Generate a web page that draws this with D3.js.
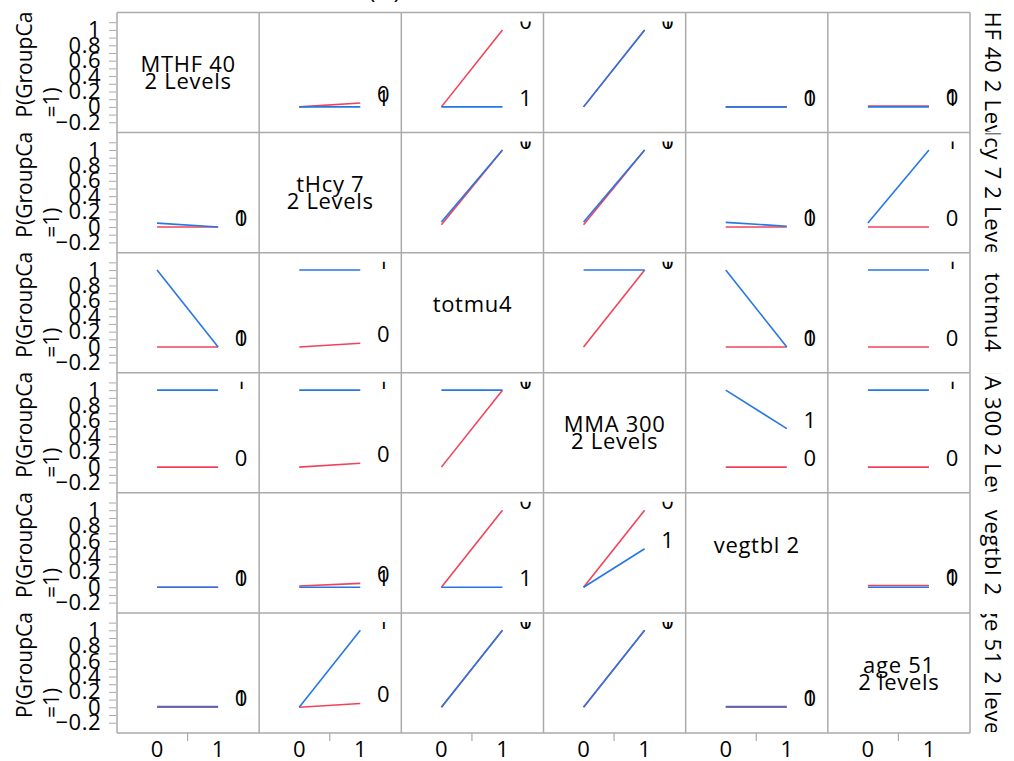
<!DOCTYPE html>
<html>
<head>
<meta charset="utf-8">
<script src="https://cdn.jsdelivr.net/npm/d3@7"></script>
<style>
  html, body { margin: 0; padding: 0; background: #fff; }
  svg { display: block; font-family: "Open Sans", "Noto Sans", sans-serif; }
</style>
</head>
<body>
<svg id="chart" width="1014" height="761"></svg>
<script>
// Factors of the interaction profiler (rows and columns share the same order)
const factors = ["MTHF 40", "tHcy 7", "totmu4", "MMA 300", "vegtbl 2", "age 51"];
// Text shown in the diagonal cells
const diagonalLabels = [
  ["MTHF 40", "2 Levels"],
  ["tHcy 7", "2 Levels"],
  ["totmu4"],
  ["MMA 300", "2 Levels"],
  ["vegtbl 2"],
  ["age 51", "2 levels"]
];
// Row titles on the right edge
const rowTitles = ["MTHF 40 2 Levels", "tHcy 7 2 Levels", "totmu4", "MMA 300 2 Levels", "vegtbl 2", "age 51 2 levels"];
const responseTitle = ["P(GroupCa", "=1)"];
const chartTitle = "(1)";
const levels = ["0", "1"];
const xTickLabels = ["0", "1"];
const yTickValues = [-0.2, 0, 0.2, 0.4, 0.6, 0.8, 1];

// Predicted P(GroupCa=1) at x = 0 and x = 1 for the row factor's level 0 (red)
const level0Profiles = [
  [null, [0, 0.05], [0, 1], [0, 1], [0, 0], [0.012, 0.012]],
  [[0, 0], null, [0.03, 1], [0.03, 1], [0, 0], [0, 0]],
  [[0, 0], [0, 0.05], null, [0, 1], [0, 0], [0, 0]],
  [[0, 0], [0, 0.05], [0, 1], null, [0, 0], [0, 0]],
  [[0, 0], [0.015, 0.05], [0, 1], [0, 1], null, [0.022, 0.022]],
  [[0, 0], [0, 0.05], [0, 1], [0, 1], [0, 0], null]
];
// ... and for the row factor's level 1 (blue)
const level1Profiles = [
  [null, [0, 0], [0, 0], [0, 1], [0, 0], [0, 0]],
  [[0.05, 0], null, [0.065, 1], [0.065, 1], [0.06, 0.01], [0.05, 1]],
  [[1, 0], [1, 1], null, [1, 1], [1, 0], [1, 1]],
  [[1, 1], [1, 1], [1, 1], null, [1, 0.5], [1, 1]],
  [[0, 0], [0, 0], [0, 0], [0, 0.5], null, [0, 0]],
  [[0.01, 0.01], [0, 1], [0, 1], [0, 1], [0.01, 0.01], null]
];

const levelColors = ["#f0435a", "#2577e3"];
const frameColor = "#aaaaaa";
const wideText = 0.7; // extra letter spacing for the wide label face

const svg = d3.select("#chart");
const gridLeft = 117, gridRight = 970, gridTop = 12.5, gridBottom = 733;

const colScale = d3.scaleBand().domain(d3.range(factors.length)).range([gridLeft, gridRight]);
const rowScale = d3.scaleBand().domain(d3.range(factors.length)).range([gridTop, gridBottom]);
const cellW = colScale.bandwidth(), cellH = rowScale.bandwidth();

// Within-cell scales
const x = d3.scaleLinear().domain([-0.656, 1.672]).range([0, cellW]);
const y = d3.scaleLinear().domain([-0.334, 1.226]).range([cellH, 0]);

const defs = svg.append("defs");

// Title (sits above the top edge)
svg.append("text")
  .attr("x", 386).attr("y", -1)
  .attr("text-anchor", "middle")
  .attr("font-size", 22)
  .attr("letter-spacing", 3)
  .text(chartTitle);

const line = d3.line().x(d => x(d[0])).y(d => y(d[1]));

factors.forEach((rf, r) => {
  const rowTop = rowScale(r);

  // Left response title for this row
  const lt = svg.append("g").attr("transform", `translate(0,${rowTop + cellH - 15}) rotate(-90)`);
  lt.append("text").attr("x", 0).attr("y", 32).attr("font-size", 21).text(responseTitle[0]);
  lt.append("text").attr("x", 0).attr("y", 59).attr("font-size", 21).text(responseTitle[1]);

  // Y axis ticks & labels
  const yAxis = d3.axisLeft(y)
    .tickValues(d3.range(-0.2, 1.1001, 0.1).map(v => Math.round(v * 10) / 10))
    .tickSize(7).tickPadding(0)
    .tickFormat(d => yTickValues.some(t => Math.abs(t - d) < 1e-9) ? d3.format("~g")(d) : "");
  const ya = svg.append("g").attr("transform", `translate(${gridLeft - 1},${rowTop})`).call(yAxis);
  ya.select(".domain").remove();
  ya.selectAll(".tick line").attr("stroke", frameColor).attr("stroke-width", 1);
  ya.selectAll(".tick text")
    .attr("x", -15)
    .attr("font-size", 22)
    .attr("letter-spacing", 0.5)
    .attr("font-family", "Open Sans, sans-serif")
    .attr("fill", "#000");

  // Right row title, clipped to the row
  const rcId = `rowclip${r}`;
  defs.append("clipPath").attr("id", rcId)
    .append("rect").attr("x", gridRight + 2).attr("y", rowTop + 1).attr("width", 50).attr("height", cellH - 2);
  svg.append("g").attr("clip-path", `url(#${rcId})`)
    .append("text")
    .attr("transform", `translate(${gridRight + 15},${rowTop + cellH / 2}) rotate(90)`)
    .attr("text-anchor", "middle")
    .attr("font-size", 22)
    .attr("letter-spacing", wideText)
    .text(rowTitles[r]);

  factors.forEach((cf, c) => {
    const g = svg.append("g").attr("transform", `translate(${colScale(c)},${rowTop})`);
    if (r === c) {
      const lines = diagonalLabels[r];
      lines.forEach((t, i) => {
        g.append("text")
          .attr("x", cellW / 2)
          .attr("y", cellH / 2 - 8 + i * 17)
          .attr("dy", "0.35em")
          .attr("text-anchor", "middle")
          .attr("font-size", 22)
          .attr("letter-spacing", wideText)
          .text(t);
      });
      return;
    }
    const cid = `cell${r}_${c}`;
    defs.append("clipPath").attr("id", cid)
      .append("rect").attr("x", 0).attr("y", 9).attr("width", cellW).attr("height", cellH - 9);
    const inner = g.append("g").attr("clip-path", `url(#${cid})`);
    const profiles = [level0Profiles[r][c], level1Profiles[r][c]];
    profiles.forEach((p, li) => {
      inner.append("path")
        .attr("d", line([[0, p[0]], [1, p[1]]]))
        .attr("fill", "none")
        .attr("stroke", levelColors[li])
        .attr("stroke-width", 1.6);
    });
    profiles.forEach((p, li) => {
      inner.append("text")
        .attr("x", x(1) + 23)
        .attr("y", y(p[1]) - 1)
        .attr("text-anchor", "middle")
        .attr("font-size", 22)
        .text(levels[li]);
    });
  });
});

// Cell frames
const frames = svg.append("g").attr("fill", "none").attr("stroke", frameColor).attr("stroke-width", 1.5);
d3.range(factors.length + 1).forEach(i => {
  const xx = gridLeft + i * cellW;
  frames.append("line").attr("x1", xx).attr("x2", xx).attr("y1", gridTop).attr("y2", gridBottom);
  const yy = gridTop + i * cellH;
  frames.append("line").attr("x1", gridLeft).attr("x2", gridRight).attr("y1", yy).attr("y2", yy);
});

// Bottom x axes
factors.forEach((f, c) => {
  const g = svg.append("g").attr("transform", `translate(${colScale(c)},${gridBottom})`);
  g.append("line").attr("x1", x(0.5)).attr("x2", x(0.5)).attr("y1", 0).attr("y2", 8)
    .attr("stroke", frameColor).attr("stroke-width", 1.2);
  xTickLabels.forEach((t, i) => {
    g.append("text").attr("x", x(i)).attr("y", 24).attr("text-anchor", "middle")
      .attr("font-size", 22).text(t);
  });
});
</script>
</body>
</html>
